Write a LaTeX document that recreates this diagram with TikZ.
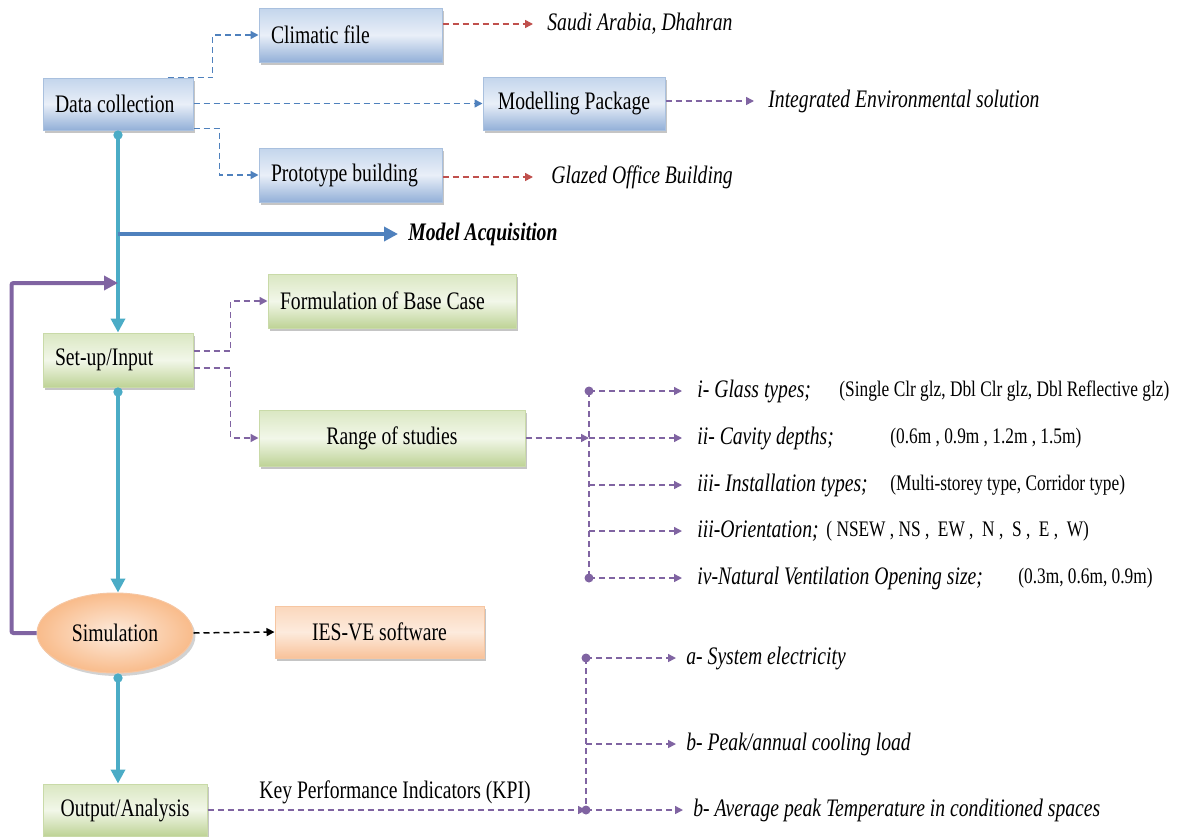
\documentclass[tikz,border=0pt]{standalone}
\usepackage{fontspec}
\setmainfont{Liberation Serif}[FakeStretch=0.78]
\usetikzlibrary{arrows.meta,shadows,shapes.geometric}
\definecolor{cy}{HTML}{4BACC6}
\definecolor{bl}{HTML}{4F81BD}
\definecolor{pu}{HTML}{8064A2}
\definecolor{rd}{HTML}{C0504D}
\definecolor{bt}{HTML}{C3D5EC}
\definecolor{bm}{HTML}{E9EFF8}
\definecolor{bb}{HTML}{93B0D8}
\definecolor{bbord}{HTML}{A9C0DE}
\definecolor{gt}{HTML}{DAE7C2}
\definecolor{gm}{HTML}{F2F7E9}
\definecolor{gb}{HTML}{BED396}
\definecolor{gbord}{HTML}{C9DAA8}
\definecolor{ot}{HTML}{FBD7BC}
\definecolor{om}{HTML}{FDEBDD}
\definecolor{ob}{HTML}{F8C29A}
\definecolor{obord}{HTML}{F6C6A2}
\newcommand\mfs{\fontsize{12.6}{14}\selectfont}
\newcommand\vfs{\fontsize{11.1}{13}\selectfont}
\begin{document}
\begin{tikzpicture}[x=0.5pt,y=-0.5pt,
  box/.style={draw, line width=0.5pt, inner xsep=6pt, inner ysep=0pt, font=\mfs,
    drop shadow={shadow xshift=1.2pt, shadow yshift=-1.5pt, fill=black!50, opacity=0.45}},
  bluebox/.style={box, draw=bbord, top color=bt, bottom color=bb, middle color=bm},
  greenbox/.style={box, draw=gbord, top color=gt, bottom color=gb, middle color=gm},
  orangebox/.style={box, draw=obord, top color=ot, bottom color=ob, middle color=om},
  txt/.style={inner sep=0pt, anchor=west, font=\mfs\itshape, text height=8.5pt, text depth=2.5pt},
  val/.style={inner sep=0pt, anchor=west, font=\vfs, text height=7.5pt, text depth=2.2pt},
  dsh/.style={line width=0.75pt, dash pattern=on 3pt off 2pt},
  tip/.style={-{Triangle[length=4pt,width=4pt]}},
  bd/.style={dsh, tip, draw=bl},
  rdd/.style={dsh, tip, draw=rd},
  pd/.style={dsh, tip, draw=pu},
  pdl/.style={dsh, draw=pu},
  kd/.style={dsh, tip, draw=black},
  thickline/.style={line width=2pt},
  cyl/.style={thickline, draw=cy, {Circle[length=4.5pt]}-{Triangle[length=7pt,width=7pt]}},
  maar/.style={thickline, draw=bl, -{Triangle[length=7pt,width=7pt]}},
  ploop/.style={thickline, draw=pu, rounded corners=1pt, -{Triangle[length=7pt,width=7pt]}},
  dot/.style={circle, fill=pu, inner sep=0pt, minimum size=4.5pt}
]
\fill[white] (0,0) rectangle (1189,836);
\useasboundingbox (0,0) rectangle (1189,836);

% coordinates
\coordinate (ma) at (118,234);
\coordinate (lp) at (118,283);
\coordinate (b1) at (589,391);
\coordinate (b2) at (589,438);
\coordinate (b3) at (589,485);
\coordinate (b4) at (589,531);
\coordinate (b5) at (589,578);
\coordinate (k1) at (586,658);
\coordinate (k2) at (586,744);
\coordinate (k3) at (586,810);

% boxes
\node[bluebox, minimum height=27pt, text width=79.5pt, align=flush left] (clim) at (350.5,35) {Climatic file};
\node[bluebox, minimum height=26pt, text width=63pt, align=flush left] (dc) at (118,104) {Data collection};
\node[bluebox, minimum width=91pt, minimum height=26.5pt] (model) at (574,103.5) {Modelling Package};
\node[bluebox, minimum height=27pt, text width=79.5pt, align=flush left] (proto) at (350.5,175) {Prototype building};
\node[greenbox, minimum height=27pt, text width=112pt, align=flush left] (form) at (392,301) {Formulation of Base Case};
\node[greenbox, minimum height=27pt, text width=63pt, align=flush left] (setup) at (118,360) {Set-up/Input};
\node[greenbox, minimum width=133pt, minimum height=28pt] (range) at (392,438) {Range of studies};
\node[ellipse, draw=obord, line width=0.5pt, inner sep=0pt, minimum width=78pt, minimum height=40pt,
  inner color=om, outer color=ob!90!orange, font=\mfs,
  drop shadow={shadow xshift=1.2pt, shadow yshift=-1.5pt, fill=black!50, opacity=0.35}] (sim) at (115,633) {Simulation};
\node[orangebox, minimum width=104.5pt, minimum height=26pt] (ies) at (379.5,632) {IES-VE software};
\node[greenbox, minimum width=82pt, minimum height=26pt] (out) at (125,810) {Output/Analysis};

% texts
\node[txt] (saudi) at (547,24) {Saudi Arabia, Dhahran};
\node[txt] (glazed) at (551,177) {Glazed Office Building};
\node[txt] (integ) at (768,101) {Integrated Environmental solution};
\node[txt, font=\mfs\bfseries\itshape] (matext) at (408,234) {Model Acquisition};
\node[inner sep=0pt, anchor=west, font=\mfs] (kpi) at (259,792) {Key Performance Indicators (KPI)};

\node[txt] (r1) at (697,391) {i- Glass types;};
\node[val] (v1) at (839,391) {(Single Clr glz, Dbl Clr glz, Dbl Reflective glz)};
\node[txt] (r2) at (697,438) {ii- Cavity depths;};
\node[val] (v2) at (890,438) {(0.6m , 0.9m , 1.2m , 1.5m)};
\node[txt] (r3) at (697,485) {iii- Installation types;};
\node[val] (v3) at (890,485) {(Multi-storey type, Corridor type)};
\node[txt] (r4) at (697,531) {iii-Orientation;};
\node[val] (v4) at (826,531) {( NSEW , NS ,~ EW ,~ N ,~ S ,~ E ,~ W)};
\node[txt] (r5) at (697,578) {iv-Natural Ventilation Opening size;};
\node[val] (v5) at (1018,578) {(0.3m, 0.6m, 0.9m)};

\node[txt] (a1) at (686,658) {a- System electricity};
\node[txt] (a2) at (686,744) {b- Peak/annual cooling load};
\node[txt] (a3) at (693,810) {b- Average peak Temperature in conditioned spaces};

% connectors top
\draw[bd] (dc.north east) ++(-26,0) -- ++(45,0) |- (clim.west);
\draw[bd] (dc.east |- model.west) -- (model.west);
\draw[bd] (dc.south east) ++(0,-2) -- ++(26,0) |- (proto.west);
\draw[rdd] (clim.east |- saudi.west) -- ([xshift=-7pt]saudi.west);
\draw[rdd] (proto.east |- glazed.west) -- ([xshift=-9pt]glazed.west);
\draw[pd] (model.east |- integ.west) -- ([xshift=-7pt]integ.west);

% main spine
\draw[cyl] (dc.south) -- (setup.north);
\draw[cyl] (setup.south) -- (setup.south |- sim.north);
\draw[cyl] (sim.south -| setup.south) -- (out.north -| setup.south);
\draw[maar] (ma) -- ([xshift=-5pt]matext.west);
\draw[ploop] (sim.west) -- ++(-25,0) |- (lp);

% setup branches
\draw[pd] (setup.east) ++(0,-9) -- ++(37,0) |- (form.west);
\draw[pd] (setup.east) ++(0,8) -- ++(37,0) |- (range.west);
\draw[pd] (range.east) -- (b2);
\draw[pdl] (b1) -- (b5);
\draw[pd] (b1) -- ([xshift=-7.5pt]r1.west);
\draw[pd] (b2) -- ([xshift=-7.5pt]r2.west);
\draw[pd] (b3) -- ([xshift=-7.5pt]r3.west);
\draw[pd] (b4) -- ([xshift=-7.5pt]r4.west);
\draw[pd] (b5) -- ([xshift=-7.5pt]r5.west);
\node[dot] (d1) at (b1) {};
\node[dot] (d5) at (b5) {};

% simulation
\draw[kd] (sim.east) -- (ies.west);

% KPI
\draw[pd] (out.east) -- (k3);
\draw[pdl] (k1) -- (k3);
\draw[pd] (k1) -- ([xshift=-5pt]a1.west);
\draw[pd] (k2) -- ([xshift=-5pt]a2.west);
\draw[pd] (k3) -- ([xshift=-5pt]a3.west);
\node[dot] (e1) at (k1) {};
\node[dot] (e3) at (k3) {};
\end{tikzpicture}
\end{document}
